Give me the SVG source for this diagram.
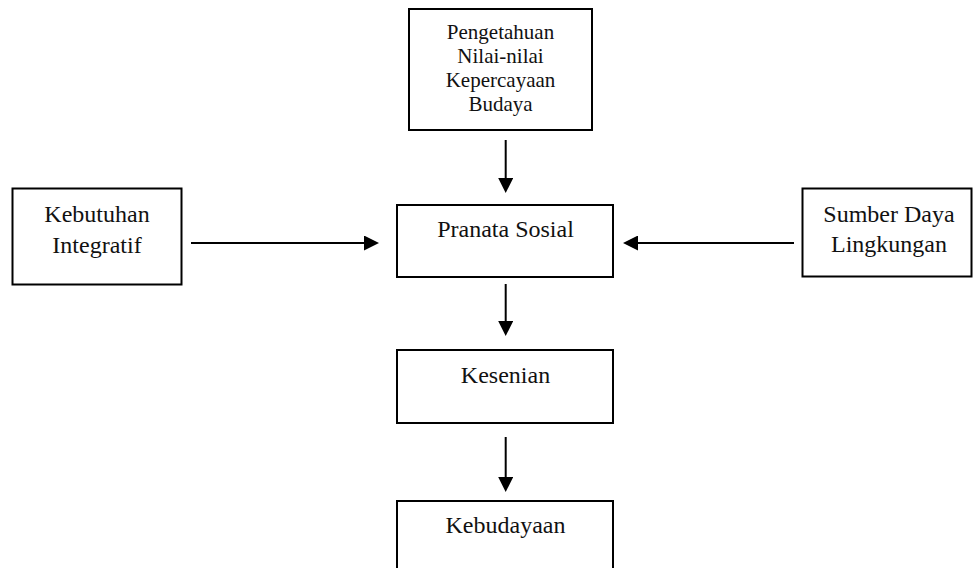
<svg xmlns="http://www.w3.org/2000/svg" width="973" height="568" viewBox="0 0 973 568">
<style>
.box{fill:#fff;stroke:#000;stroke-width:2}
.lbl{font-family:"Liberation Serif","Times New Roman",serif;font-size:24px;fill:#111;text-anchor:middle}
.sm{font-size:21px}
.con{stroke:#000;stroke-width:2;fill:none}
</style>
<defs>
<marker id="ah" viewBox="0 0 15 15" markerWidth="15" markerHeight="15" refX="10" refY="7.5" orient="auto" markerUnits="userSpaceOnUse">
<path d="M0,0 L15,7.5 L0,15 z" fill="#000"/>
</marker>
</defs>
<rect width="973" height="568" fill="#fff"/>
<g id="n-pengetahuan">
<rect class="box" x="409" y="9" width="183" height="121"/>
<text class="lbl sm" x="500.5" y="39">Pengetahuan</text>
<text class="lbl sm" x="500.5" y="63">Nilai-nilai</text>
<text class="lbl sm" x="500.5" y="87">Kepercayaan</text>
<text class="lbl sm" x="500.5" y="111">Budaya</text>
</g>
<g id="n-kebutuhan">
<rect class="box" x="12.5" y="188.5" width="169" height="96"/>
<text class="lbl" x="97" y="222">Kebutuhan</text>
<text class="lbl" x="97" y="253">Integratif</text>
</g>
<g id="n-pranata">
<rect class="box" x="397" y="205" width="216" height="72"/>
<text class="lbl" x="505.5" y="237">Pranata Sosial</text>
</g>
<g id="n-sumber">
<rect class="box" x="802.5" y="188.5" width="169" height="88"/>
<text class="lbl" x="889" y="222">Sumber Daya</text>
<text class="lbl" x="889" y="252">Lingkungan</text>
</g>
<g id="n-kesenian">
<rect class="box" x="397" y="350" width="216" height="73"/>
<text class="lbl" x="505.5" y="383">Kesenian</text>
</g>
<g id="n-kebudayaan">
<rect class="box" x="397" y="501" width="216" height="90"/>
<text class="lbl" x="505.5" y="533">Kebudayaan</text>
</g>
<g id="connectors">
<line class="con" x1="505.7" y1="140" x2="505.7" y2="188" marker-end="url(#ah)"/>
<line class="con" x1="191" y1="243" x2="374" y2="243" marker-end="url(#ah)"/>
<line class="con" x1="794" y1="243" x2="628" y2="243" marker-end="url(#ah)"/>
<line class="con" x1="505.7" y1="284" x2="505.7" y2="331" marker-end="url(#ah)"/>
<line class="con" x1="505.7" y1="437" x2="505.7" y2="487" marker-end="url(#ah)"/>
</g>
</svg>
